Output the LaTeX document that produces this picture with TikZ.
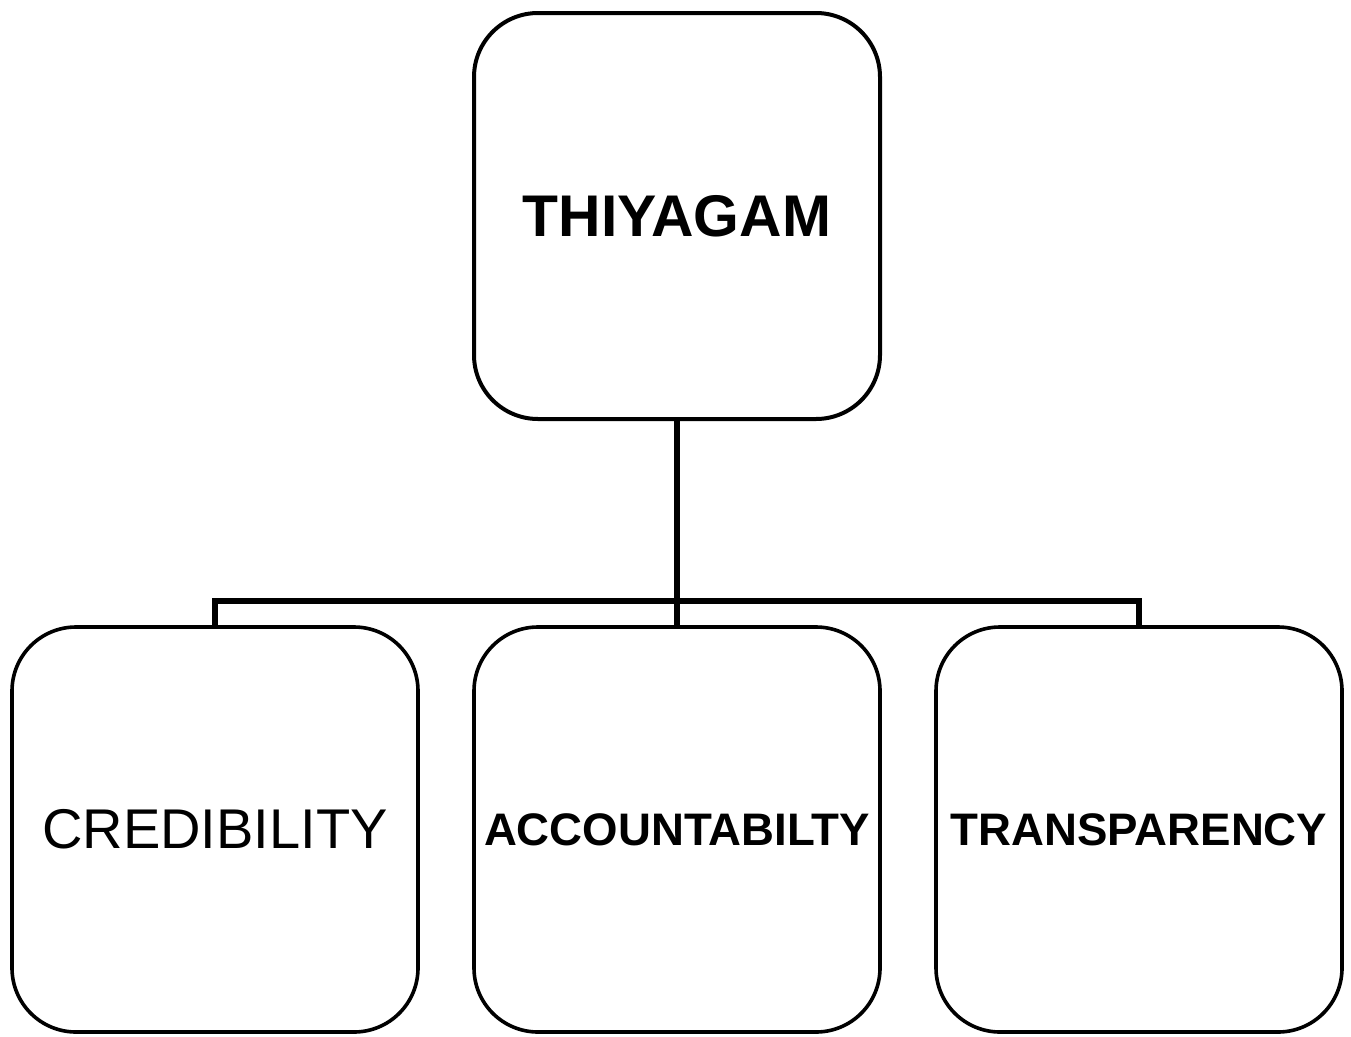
\documentclass[tikz,border=0pt]{standalone}
\usepackage{fontspec}
\setmainfont{Liberation Sans}
\begin{document}
\begin{tikzpicture}[x=1pt,y=-1pt,
  box/.style={draw, line width=3.6pt, rounded corners=64pt,
    minimum width=406pt, minimum height=405pt, inner sep=0pt, align=center},
  link/.style={line width=6pt},
  bigbold/.style={font=\fontsize{58.8}{58.8}\selectfont\bfseries},
  bigplain/.style={font=\fontsize{56}{56}\selectfont},
  midbold/.style={font=\fontsize{45.6}{45.6}\selectfont\bfseries}]
\useasboundingbox (0,0) rectangle (1351,1036);
% top-level box
\node[box, line width=4pt, minimum height=406pt, bigbold] (top) at (677,216) {THIYAGAM};
% second-level boxes
\node[box, bigplain] (cred) at (215,829.5) {CREDIBILITY};
\node[box, midbold] (acc) at (677,829.5) {ACCOUNTABILTY};
\node[box, midbold] (trans) at (1139,829.5) {TRANSPARENCY};
% org-chart connectors
\coordinate (j) at (677,601);
\draw[link] (top.south) -- (j);
\draw[link] (cred.north) -- (cred.north |- j) -- (trans.north |- j) -- (trans.north);
\draw[link] (j) -- (acc.north);
\end{tikzpicture}
\end{document}
